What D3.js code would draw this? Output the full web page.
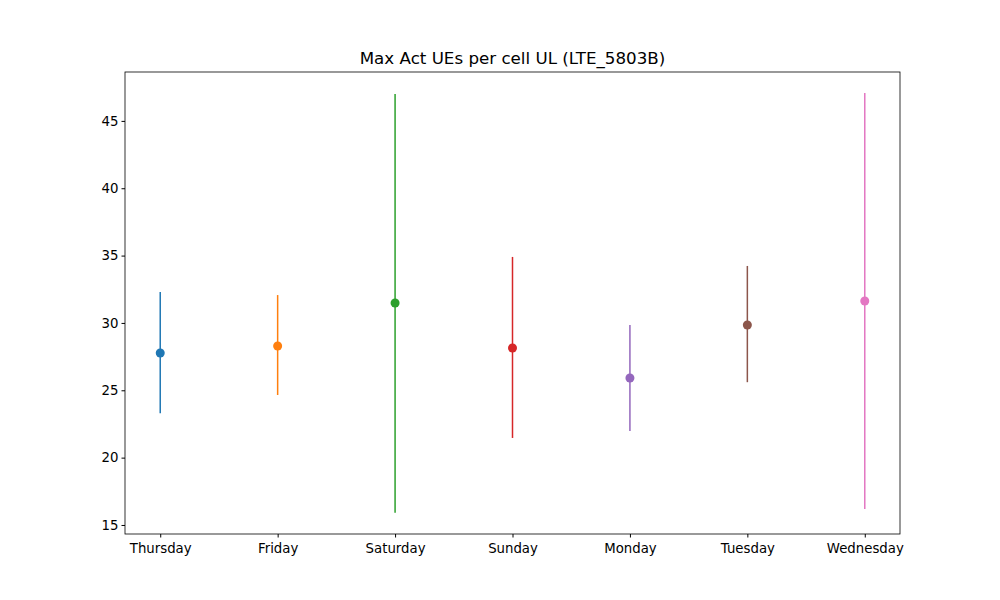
<!DOCTYPE html>
<html><head><meta charset="utf-8">
<script src="https://cdn.jsdelivr.net/npm/d3@7"></script>
<style>body{margin:0;background:#fff}text{font-family:"DejaVu Sans",sans-serif}</style>
</head><body><svg id="c" width="1000" height="600"></svg>
<script>
var days = ["Thursday","Friday","Saturday","Sunday","Monday","Tuesday","Wednesday"];
var means = [27.77,28.29,31.48,28.14,25.91,29.85,31.63];
var highs = [32.3,32.07,47.0,34.9,29.85,34.23,47.07];
var lows = [23.3,24.65,15.9,21.46,21.98,25.6,16.19];
var colors = ["#1f77b4","#ff7f0e","#2ca02c","#d62728","#9467bd","#8c564b","#e377c2"];
var yTicks = [15,20,25,30,35,40,45];

var svg = d3.select("#c");
var L = 125, R = 900, T = 72, B = 534;
var x = d3.scaleLinear().domain([-0.3, 6.3]).range([L, R]);
var y = d3.scaleLinear().domain([14.33, 48.63]).range([B, T]);

svg.append("g").attr("transform","translate(0,"+B+")")
  .call(d3.axisBottom(x).tickValues(d3.range(7)).tickFormat(function(i){return days[i];}).tickSize(3.5).tickSizeOuter(0))
  .call(function(g){g.select(".domain").remove();g.selectAll("text").attr("font-size",13.3).attr("dy","0.95em");});
svg.append("g").attr("transform","translate("+L+",0)")
  .call(d3.axisLeft(y).tickValues(yTicks).tickSize(3.5).tickSizeOuter(0))
  .call(function(g){g.select(".domain").remove();g.selectAll("text").attr("font-size",13.3);});
svg.append("rect").attr("x",L).attr("y",T).attr("width",R-L).attr("height",B-T)
  .attr("fill","none").attr("stroke","#000").attr("stroke-width",0.8);

days.forEach(function(d,i){
  svg.append("line").attr("x1",x(i)).attr("x2",x(i)).attr("y1",y(lows[i])).attr("y2",y(highs[i]))
    .attr("stroke",colors[i]).attr("stroke-width",1.5);
  svg.append("circle").attr("cx",x(i)).attr("cy",y(means[i])).attr("r",4.5).attr("fill",colors[i]);
});

svg.append("text").attr("x",(L+R)/2).attr("y",64).attr("text-anchor","middle")
  .attr("font-size",16.7).text("Max Act UEs per cell UL (LTE_5803B)");
</script></body></html>
